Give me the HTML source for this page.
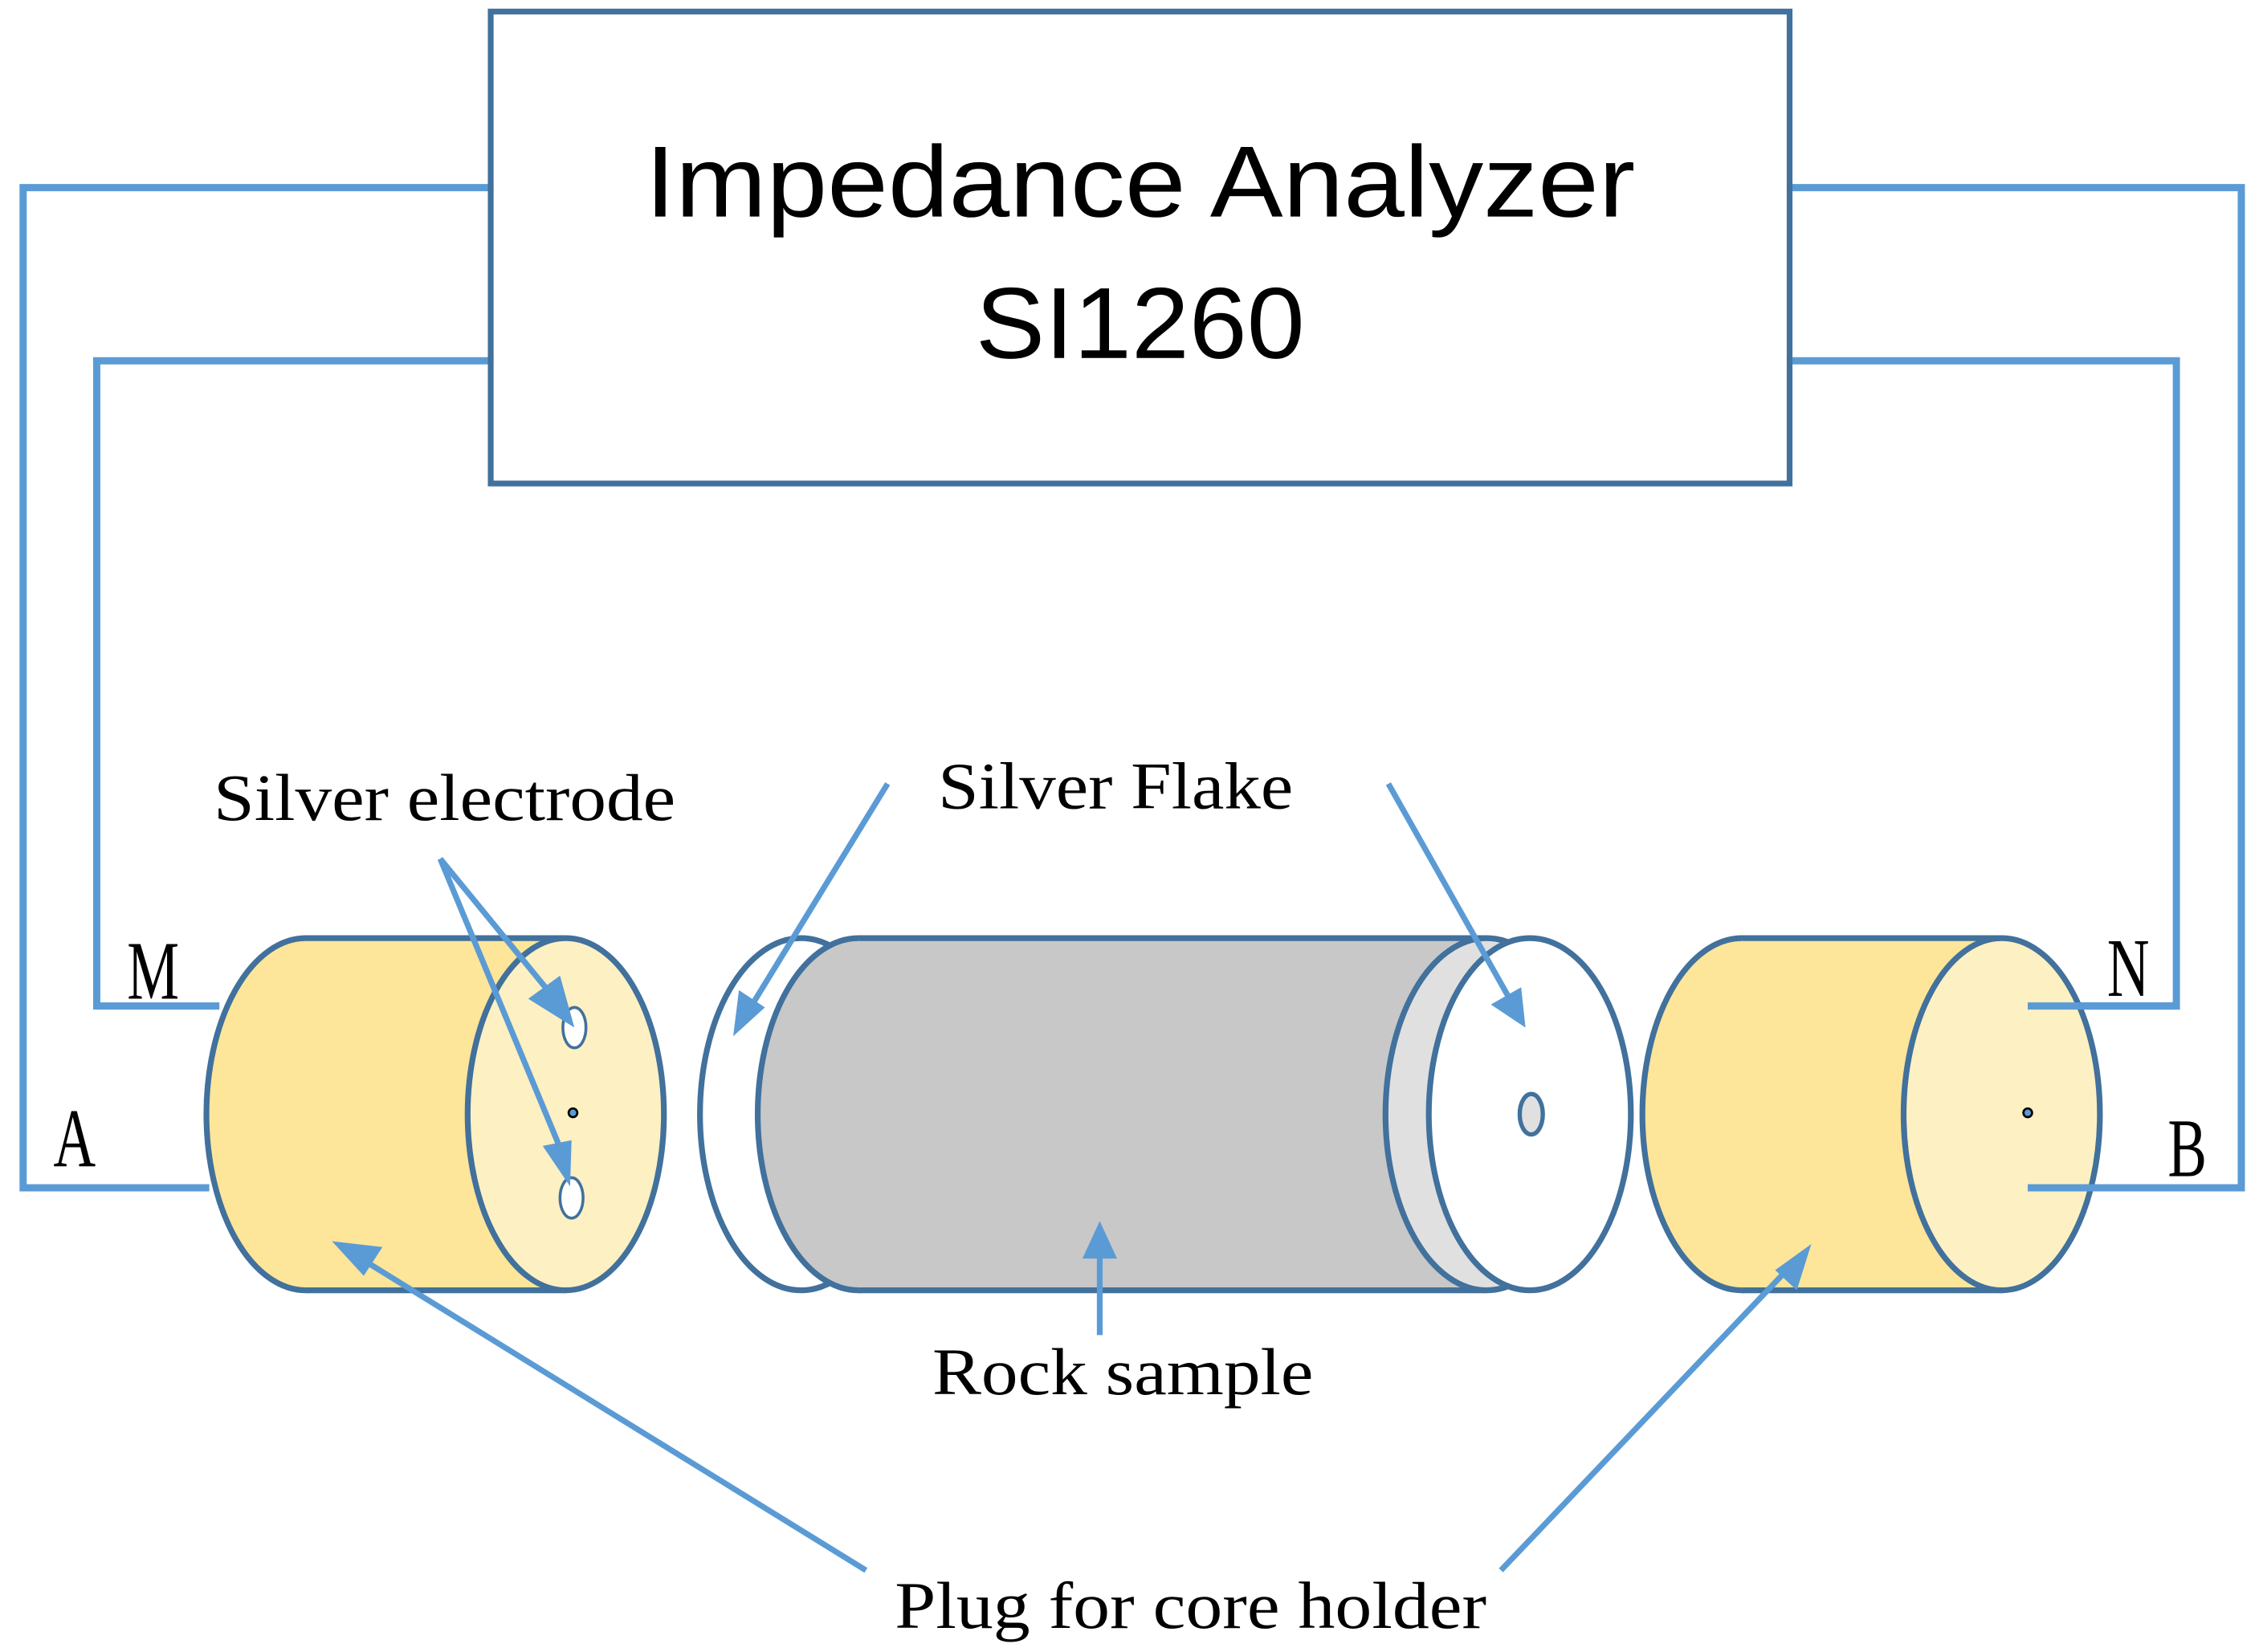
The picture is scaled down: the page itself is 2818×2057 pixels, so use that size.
<!DOCTYPE html>
<html><head><meta charset="utf-8"><style>html,body{margin:0;padding:0;background:#fff}svg{display:block}</style></head>
<body>
<svg width="2818" height="2057" viewBox="0 0 1568 1144.6" xmlns="http://www.w3.org/2000/svg">
<!-- wires -->
<g fill="none" stroke="#5b9bd5" stroke-width="5">
<polyline points="340,130 16,130 16,823 145,823"/>
<polyline points="340,250 67,250 67,697 152,697"/>
<polyline points="1240,130 1553,130 1553,823 1407,823"/>
<polyline points="1240,250 1508,250 1508,697 1407,697"/>
</g>
<!-- box -->
<rect x="340" y="8" width="900" height="327" fill="#fff" stroke="#41719c" stroke-width="4"/>
<text x="447" y="150" textLength="686" lengthAdjust="spacingAndGlyphs" font-family="Liberation Sans, sans-serif" font-size="70">Impedance Analyzer</text>
<text x="676" y="248" textLength="228" lengthAdjust="spacingAndGlyphs" font-family="Liberation Sans, sans-serif" font-size="70">SI1260</text>
<g stroke="#41719c" stroke-width="4">
<!-- left plug -->
<ellipse cx="212" cy="772" rx="69" ry="122" fill="#fde59a"/>
<path d="M212,650 L392,650 L392,894 L212,894 Z" fill="#fde59a" stroke="none"/>
<line x1="212" y1="650" x2="392" y2="650"/><line x1="212" y1="894" x2="392" y2="894"/>
<ellipse cx="392" cy="772" rx="68" ry="122" fill="#fdf0c2"/>
<ellipse cx="398" cy="712" rx="8" ry="14" fill="#fff" stroke-width="2"/>
<ellipse cx="396" cy="830" rx="8" ry="14" fill="#fff" stroke-width="2"/>
<!-- rock sample -->
<ellipse cx="555" cy="772" rx="70" ry="122" fill="#fff"/>
<ellipse cx="595" cy="772" rx="70" ry="122" fill="#c8c8c8"/>
<path d="M595,650 L1030,650 L1030,894 L595,894 Z" fill="#c8c8c8" stroke="none"/>
<line x1="595" y1="650" x2="1030" y2="650"/><line x1="595" y1="894" x2="1030" y2="894"/>
<ellipse cx="1030" cy="772" rx="70" ry="122" fill="#e0e0e0"/>
<ellipse cx="1060" cy="772" rx="70" ry="122" fill="#fff"/>
<ellipse cx="1061" cy="772" rx="8" ry="14" fill="#e0e0e0" stroke-width="3"/>
<!-- right plug -->
<ellipse cx="1207" cy="772" rx="69" ry="122" fill="#fde59a"/>
<path d="M1207,650 L1387,650 L1387,894 L1207,894 Z" fill="#fde59a" stroke="none"/>
<line x1="1207" y1="650" x2="1387" y2="650"/><line x1="1207" y1="894" x2="1387" y2="894"/>
<ellipse cx="1387" cy="772" rx="68" ry="122" fill="#fdf0c2"/>
</g>
<circle cx="397" cy="771" r="3" fill="#5b9bd5" stroke="#000" stroke-width="1.5"/>
<circle cx="1405" cy="771" r="3" fill="#5b9bd5" stroke="#000" stroke-width="1.5"/>
<g stroke="#5b9bd5" stroke-width="5"><line x1="1405" y1="697" x2="1510" y2="697"/><line x1="1405" y1="823" x2="1555" y2="823"/></g>
<!-- arrows -->
<g stroke="#5b9bd5" stroke-width="4" fill="none">
<line x1="305" y1="595" x2="386" y2="694"/>
<line x1="305" y1="595" x2="390" y2="800"/>
<line x1="615" y1="543" x2="520" y2="698"/>
<line x1="962" y1="543" x2="1046" y2="692"/>
<line x1="762" y1="925" x2="762" y2="868"/>
<line x1="600" y1="1088" x2="250" y2="872"/>
<line x1="1040" y1="1088" x2="1240" y2="878"/>
</g>
<g fill="#5b9bd5">
<polygon points="398,712 366,692 388,676"/>
<polygon points="395,822 376,794 396,790"/>
<polygon points="508,718 512,686 530,698"/>
<polygon points="1057,712 1033,696 1054,684"/>
<polygon points="762,846 750,872 774,872"/>
<polygon points="230,860 265,864 252,884"/>
<polygon points="1255,862 1245,894 1230,880"/>
</g>
<g font-family="Liberation Serif, serif" font-size="46" fill="#000">
<text x="148" y="568" textLength="320" lengthAdjust="spacingAndGlyphs">Silver electrode</text>
<text x="650" y="560" textLength="246" lengthAdjust="spacingAndGlyphs">Silver Flake</text>
<text x="646" y="966" textLength="264" lengthAdjust="spacingAndGlyphs">Rock sample</text>
<text x="620" y="1128" textLength="410" lengthAdjust="spacingAndGlyphs">Plug for core holder</text>
</g>
<g font-family="Liberation Serif, serif" font-size="58" fill="#000">
<text x="88" y="692" transform="translate(88 692) scale(0.7 1) translate(-88 -692)">M</text>
<text x="37" y="808" transform="translate(37 808) scale(0.7 1) translate(-37 -808)">A</text>
<text x="1460" y="690" transform="translate(1460 690) scale(0.7 1) translate(-1460 -690)">N</text>
<text x="1502" y="815" transform="translate(1502 815) scale(0.7 1) translate(-1502 -815)">B</text>
</g>
</svg>
</body></html>
